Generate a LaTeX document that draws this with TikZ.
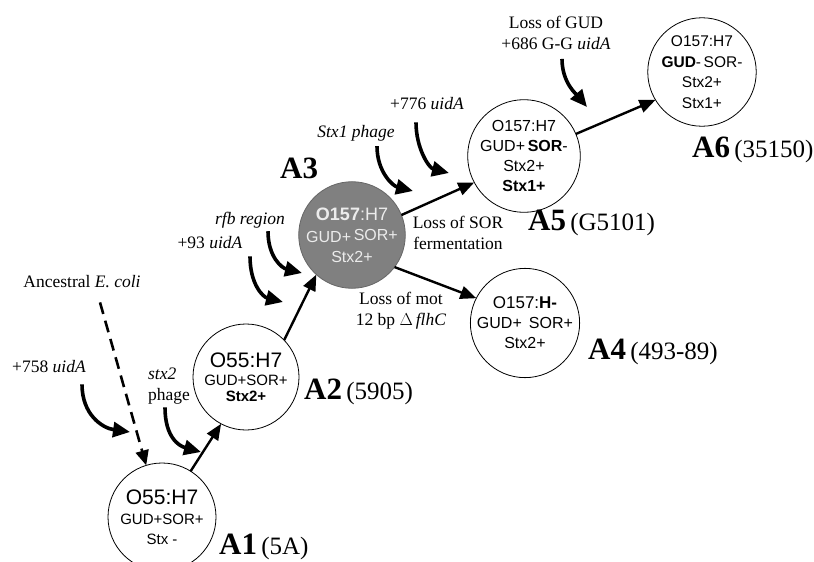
\documentclass[tikz,border=0pt]{standalone}
\usepackage{fontspec}
\setmainfont{Liberation Serif}
\setsansfont{Liberation Sans}
\usetikzlibrary{arrows.meta}
\definecolor{strainfill}{RGB}{128,128,128}
\definecolor{straintext}{RGB}{236,236,236}
\tikzset{
  cell/.style     ={circle, draw=black, line width=0.8pt, inner sep=0pt,
                    outer sep=0pt, fill=white, align=center,
                    font=\sffamily\fontsize{15}{20}\selectfont},
  lbl/.style      ={align=center, inner sep=1pt,
                    font=\fontsize{17.5}{21}\selectfont},
  straintag/.style={anchor=west, inner sep=0pt,
                    font=\fontsize{25}{28}\selectfont},
  arr/.style      ={-{Triangle[length=16pt, width=13pt]}, line width=2.4pt},
  curvarr/.style  ={-{Triangle[length=17pt, width=15pt]}, line width=3.6pt},
  dasharr/.style  ={-{Triangle[length=15pt, width=13pt]}, line width=2.6pt,
                    dash pattern=on 12pt off 7pt},
}
\newcommand{\tagA}[1]{{\bfseries\fontsize{31}{31}\selectfont #1}}
\newcommand{\serotype}[1]{{\fontsize{21}{22}\selectfont #1}}
\begin{document}
\begin{tikzpicture}[x=1pt, y=-1pt]
  \useasboundingbox (0,0) rectangle (814,562);

  % strains
  \node[cell, minimum size=108pt] (A1) at (162,517)
    {\serotype{O55:H7}\\GUD+SOR+\\Stx -};
  \node[cell, minimum size=106pt] (A2) at (246,377)
    {\serotype{O55:H7}\\[-2pt]GUD+SOR+\\[-4pt]\textbf{Stx2+}};
  \node[cell, minimum size=106pt, fill=strainfill, draw=black!60, text=straintext,
        font=\sffamily\fontsize{16}{22}\selectfont] (A3) at (352,235)
    {{\fontsize{18}{22}\selectfont\textbf{O157}:H7}\\GUD+\,\raisebox{2pt}{SOR+}\\[-2pt]Stx2+};
  \node[cell, minimum size=104pt, font=\sffamily\fontsize{16}{20}\selectfont] (A4) at (525,323)
    {{\fontsize{17}{20}\selectfont O157:\textbf{H-}}\\GUD+\, SOR+\\Stx2+};
  \node[cell, minimum size=102pt, font=\sffamily\fontsize{16}{20}\selectfont] (A5) at (524,156)
    {O157:H7\\GUD+\,\textbf{SOR}-\\Stx2+\\\textbf{Stx1+}};
  \node[cell, minimum size=108pt, font=\sffamily\fontsize{15.5}{20.5}\selectfont] (A6) at (702,72)
    {O157:H7\\\textbf{GUD}-\,SOR-\\Stx2+\\Stx1+};

  % strain names
  \node[straintag] (A1l) at (219,547) {\tagA{A1}\,(5A)};
  \node[straintag] (A2l) at (304,392) {\tagA{A2}\,(5905)};
  \node[straintag] (A3l) at (280,168) {\tagA{A3}};
  \node[straintag] (A4l) at (588,352) {\tagA{A4}\,(493-89)};
  \node[straintag] (A5l) at (528,223) {\tagA{A5}\,(G5101)};
  \node[straintag] (A6l) at (692,150) {\tagA{A6}\,(35150)};

  % events
  \node[lbl] (anc)  at (82,282)  {Ancestral \textit{E. coli}};
  \node[lbl] (m758) at (49,367)  {+758 \textit{uidA}};
  \node[lbl, align=left] (stx2) at (169,386) {\textit{stx2}\\phage};
  \node[lbl] (m93)  at (210,243) {+93 \textit{uidA}};
  \node[lbl] (rfb)  at (250,220) {\textit{rfb region}};
  \node[lbl] (stx1) at (356,133) {\textit{Stx1 phage}};
  \node[lbl] (m776) at (427,104) {+776 \textit{uidA}};
  \node[lbl] (gud)  at (556,33)  {Loss of GUD\\+686 G-G \textit{uidA}};
  \node[lbl] (sor)  at (458,233) {Loss of SOR\\fermentation};
  \node[lbl] (mot)  at (401,311) {Loss of mot\\12 bp $\Delta$\,\textit{flhC}};

  \coordinate (t758) at (130,432);
  \coordinate (tstx2) at (201,452);
  \coordinate (t93) at (283,302);
  \coordinate (trfb) at (302,273);
  \coordinate (tstx1) at (413,191);
  \coordinate (t776) at (449,173);
  \coordinate (tgud) at (587,107);

  % lineage
  \draw[arr] (A1.58) -- (A2.242);
  \draw[arr] (A2.44) -- (A3.228);
  \draw[arr] (A3.22) -- (A5.208);
  \draw[arr] (A5.23) -- (A6.211);
  \draw[arr] (A3.-37) -- (A4.153);
  \draw[dasharr] ([xshift=18pt,yshift=-13pt]anc.south) -- (A1.107);

  % curved event arrows
  \draw[curvarr] ([xshift=33pt,yshift=-10pt]m758.south) .. controls +(0,30) and +(-28,-4) .. (t758);
  \draw[curvarr] ([xshift=-4pt,yshift=-2pt]stx2.south) .. controls +(0,30) and +(-22,-6) .. (tstx2);
  \draw[curvarr] ([xshift=40pt,yshift=-6pt]m93.south) .. controls +(0,28) and +(-20,-5) .. (t93);
  \draw[curvarr] ([xshift=18pt,yshift=-2pt]rfb.south) .. controls +(0,26) and +(-20,-5) .. (trfb);
  \draw[curvarr] ([xshift=21pt,yshift=-4pt]stx1.south) .. controls +(0,26) and +(-20,-5) .. (tstx1);
  \draw[curvarr] ([xshift=-11pt,yshift=-11pt]m776.south) .. controls +(0,26) and +(-20,-5) .. (t776);
  \draw[curvarr] ([xshift=6pt,yshift=-8pt]gud.south) .. controls +(0,24) and +(-10,-12) .. (tgud);
\end{tikzpicture}
\end{document}
